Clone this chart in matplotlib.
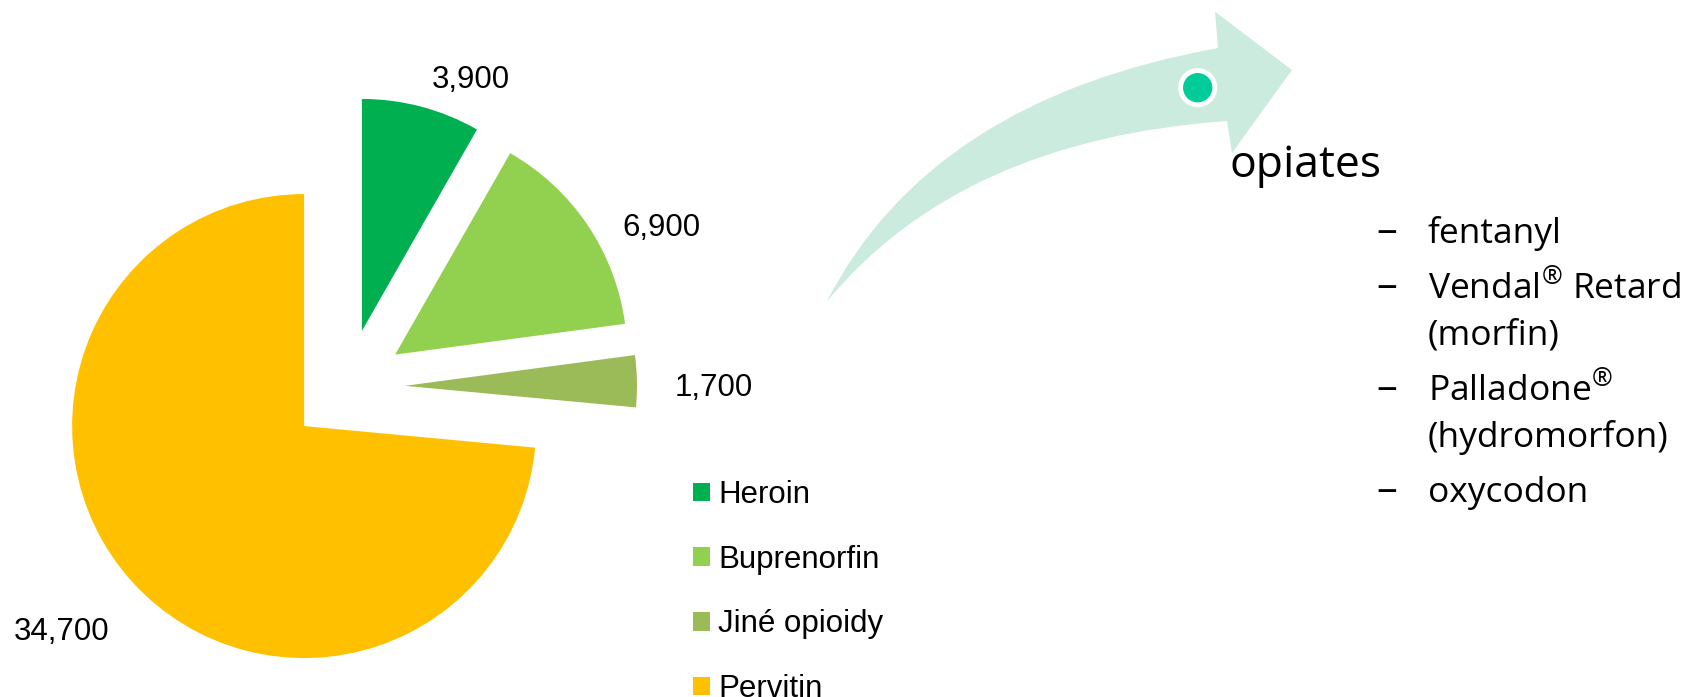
import numpy as np
import matplotlib.pyplot as plt
from matplotlib.path import Path
from matplotlib.patches import PathPatch, Circle

plt.rcParams['mathtext.fontset'] = 'custom'
plt.rcParams['mathtext.rm'] = 'Open Sans'

# users by drug
categories = ['Heroin', 'Buprenorfin', 'Jiné opioidy', 'Pervitin']
users = [3900, 6900, 1700, 34700]
colors = ['#00B050', '#92D050', '#9BBB59', '#FFC000']

heading = 'opiates'
opiate_items = [['fentanyl'], ['Vendal® Retard', '(morfin)'],
                ['Palladone®', '(hydromorfon)'], ['oxycodon']]

W, H = 1703, 697
fig = plt.figure(figsize=(W / 100, H / 100), dpi=100)
ax = fig.add_axes([0, 0, 1, 1])

R = 232
cx, cy = 347, 310
wedges, _ = ax.pie(users, colors=colors, startangle=90, counterclock=False,
                   radius=R, center=(cx, cy), explode=[58] * len(users),
                   wedgeprops=dict(linewidth=0))

# value labels outside each slice
lab_r = [1.18, 1.27, 1.33, 1.37]
lab_shift = [-8.5, -8.5, -1.5, -2]
for w, v, k, s in zip(wedges, users, lab_r, lab_shift):
    th = np.radians((w.theta1 + w.theta2) / 2 + s)
    x0, y0 = w.center
    ax.text(x0 + k * R * np.cos(th), y0 + k * R * np.sin(th), f'{v:,}',
            ha='center', va='center', fontsize=22.5, family='Liberation Sans')

ax.legend(wedges, categories, loc='upper left', bbox_to_anchor=(693, 217),
          bbox_transform=ax.transData, frameon=False,
          prop={'family': 'Liberation Sans', 'size': 22.5},
          handlelength=0.55, handleheight=0.55, handletextpad=0.25,
          labelspacing=1.11, borderpad=0, borderaxespad=0)

# curved arrow
T = (826.7, 395.3)
verts = [T, (930, 597), (1218, 649), (1215, 685.3), (1292, 627),
         (1232, 544), (1227, 576), (960, 557), T, T]
codes = [Path.MOVETO, Path.CURVE3, Path.CURVE3, Path.LINETO, Path.LINETO,
         Path.LINETO, Path.LINETO, Path.CURVE3, Path.CURVE3, Path.CLOSEPOLY]
ax.add_patch(PathPatch(Path(verts, codes), facecolor='#CCEBDF', edgecolor='none'))
ax.add_patch(Circle((1197.7, 609.3), 17.1, facecolor='#00CC99',
                    edgecolor='white', linewidth=3.5))

ax.text(1229, 520.3, heading, fontsize=32, family='Open Sans',
        ha='left', va='baseline')

yb = 243
for item in opiate_items:
    ax.text(1376, H - yb, '–', fontsize=30, family='Open Sans', va='baseline')
    for line in item:
        ax.text(1428, H - yb, line.replace('®', r'$^{\mathrm{®}}$'),
                fontsize=25.5, family='Open Sans', va='baseline')
        yb += 47
    yb += 8

ax.set_xlim(0, W)
ax.set_ylim(0, H)
ax.set_aspect('equal')
ax.axis('off')
fig.savefig('out.png', dpi=100)
